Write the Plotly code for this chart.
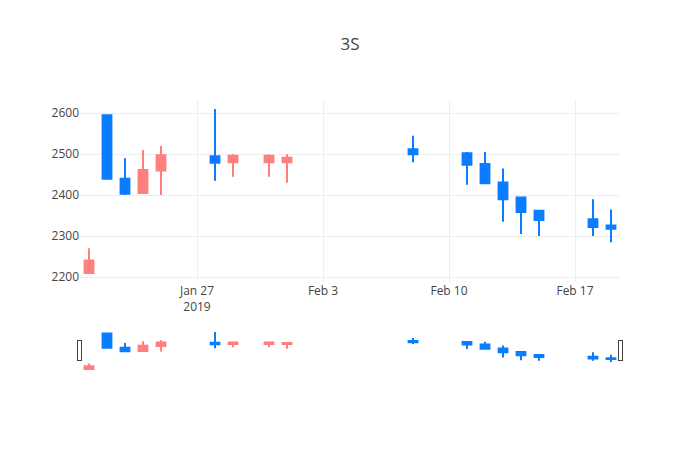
import plotly.graph_objects as go

dates = ["2019-01-21", "2019-01-22", "2019-01-23", "2019-01-24", "2019-01-25",
         "2019-01-28", "2019-01-29", "2019-01-31", "2019-02-01",
         "2019-02-08", "2019-02-11", "2019-02-12", "2019-02-13", "2019-02-14",
         "2019-02-15", "2019-02-18", "2019-02-19"]
open_ = [2210, 2595, 2440, 2405, 2460, 2495, 2480, 2480, 2480,
         2512, 2502, 2476, 2431, 2394, 2362, 2341, 2326]
high = [2270, 2595, 2490, 2510, 2520, 2610, 2500, 2500, 2500,
        2545, 2505, 2505, 2465, 2395, 2362, 2390, 2365]
low = [2210, 2440, 2400, 2405, 2400, 2435, 2445, 2445, 2430,
       2480, 2425, 2428, 2335, 2305, 2300, 2300, 2285]
close = [2240, 2440, 2403, 2461, 2497, 2479, 2496, 2496, 2491,
         2500, 2474, 2429, 2390, 2359, 2339, 2322, 2318]

fig = go.Figure(go.Candlestick(
    x=dates, open=open_, high=high, low=low, close=close,
    increasing=dict(line=dict(color="#ff7f7f"), fillcolor="#ff7f7f"),
    decreasing=dict(line=dict(color="#0a7cff"), fillcolor="#0a7cff"),
))

fig.update_layout(
    template="none",
    title=dict(text="3S", x=0.5),
    width=700, height=450,
    showlegend=False,
    font=dict(family="Open Sans", color="#444"),
    xaxis=dict(rangeslider=dict(visible=True), gridcolor="#eee"),
    yaxis=dict(gridcolor="#eee"),
)

fig.write_html("out.html")
